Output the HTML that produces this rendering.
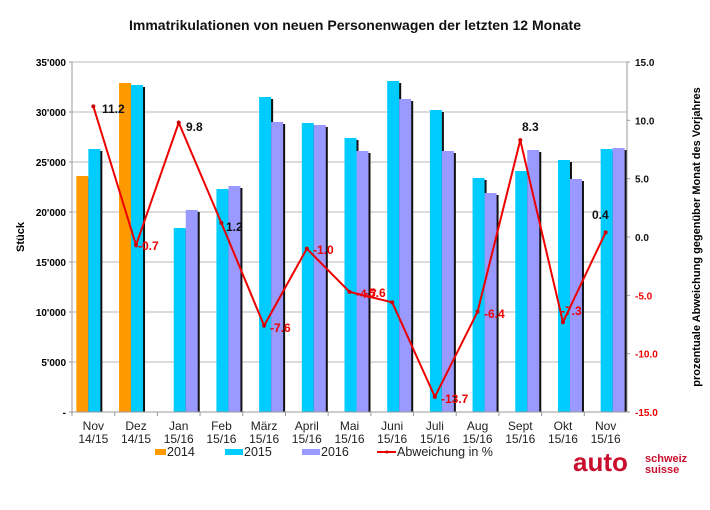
<!DOCTYPE html>
<html><head><meta charset="utf-8"><style>
body{margin:0;background:#fff;}
text{font-family:"Liberation Sans",Arial,sans-serif;}
</style></head><body>
<svg width="710" height="505" xmlns="http://www.w3.org/2000/svg">
<text x="355" y="30" text-anchor="middle" font-size="14" font-weight="bold" fill="#111">Immatrikulationen von neuen Personenwagen der letzten 12 Monate</text>
<g id="grid" stroke="#c8c8c8" stroke-width="1.2"></g>
<g id="bars"></g>
<line x1="72" y1="62" x2="72" y2="412" stroke="#999"/>
<line x1="627" y1="62" x2="627" y2="412" stroke="#999"/>
<line x1="72" y1="412" x2="627" y2="412" stroke="#999"/>
<g id="ticks" font-size="10" font-weight="bold"></g>
<text transform="translate(24,237) rotate(-90)" text-anchor="middle" font-size="11" font-weight="bold">Stück</text>
<text transform="translate(700,237) rotate(-90)" text-anchor="middle" font-size="11" font-weight="bold">prozentuale Abweichung gegenüber Monat des Vorjahres</text>
<g id="line"></g>
<g id="cats" font-size="12" fill="#222" text-anchor="middle"></g>
<g font-size="12.5" fill="#222">
<rect x="155" y="449" width="11" height="6" fill="#ff9900"/><text x="167" y="456">2014</text>
<rect x="225" y="449" width="18" height="6" fill="#00ccff"/><text x="244" y="456">2015</text>
<rect x="302" y="449" width="18" height="6" fill="#9999ff"/><text x="321" y="456">2016</text>
<line x1="377" y1="452" x2="396" y2="452" stroke="#e00" stroke-width="2"/><circle cx="387" cy="452" r="1.5" fill="#c00"/><text x="397" y="456">Abweichung in %</text>
</g>
<text x="573" y="471" font-size="26" font-weight="bold" fill="#c8102e">auto</text>
<text x="645" y="462" font-size="11" font-weight="bold" fill="#c8102e">schweiz</text>
<text x="645" y="473" font-size="11" font-weight="bold" fill="#c8102e">suisse</text>
</svg>
<script>
const L=72,R=627,T=62,B=412,W=(R-L)/13;
const ns="http://www.w3.org/2000/svg";
function el(p,t,a,txt){const e=document.createElementNS(ns,t);for(const k in a)e.setAttribute(k,a[k]);if(txt!==undefined)e.textContent=txt;document.getElementById(p).appendChild(e);}
const yv=v=>B-v/35000*(B-T), yp=p=>237-p*(B-T)/30;
for(let v=5000;v<=35000;v+=5000)el("grid","line",{x1:L,x2:R,y1:yv(v),y2:yv(v)});
const ll=["-","5'000","10'000","15'000","20'000","25'000","30'000","35'000"];
ll.forEach((t,i)=>{el("ticks","text",{x:L-6,y:yv(i*5000)+4,"text-anchor":"end"},t);el("ticks","line",{x1:L-3,x2:L,y1:yv(i*5000),y2:yv(i*5000),stroke:"#999"});});
for(let p=-15;p<=15;p+=5){el("ticks","text",{x:R+8,y:yp(p)+4,fill:p<0?"#e00":"#111"},p.toFixed(1));el("ticks","line",{x1:R,x2:R+3,y1:yp(p),y2:yp(p),stroke:"#999"});}
const d=[[23600,26300,0],[32900,32700,0],[0,18400,20200],[0,22300,22600],[0,31500,29000],[0,28900,28700],[0,27400,26100],[0,33100,31300],[0,30200,26100],[0,23400,21900],[0,24100,26200],[0,25200,23300],[0,26300,26400]];
const col=["#ff9900","#00ccff","#9999ff"];
const cats=[["Nov","14/15"],["Dez","14/15"],["Jan","15/16"],["Feb","15/16"],["März","15/16"],["April","15/16"],["Mai","15/16"],["Juni","15/16"],["Juli","15/16"],["Aug","15/16"],["Sept","15/16"],["Okt","15/16"],["Nov","15/16"]];
d.forEach((g,i)=>{const c=L+W*(i+.5);g.forEach((v,j)=>{if(!v)return;const x=c-17+j*12;el("bars","rect",{x:x+2,y:yv(v)+2,width:12,height:B-yv(v)-2,fill:"#111"});el("bars","rect",{x:x,y:yv(v),width:12,height:B-yv(v),fill:col[j]});});
el("cats","text",{x:c,y:430},cats[i][0]);el("cats","text",{x:c,y:443},cats[i][1]);
el("ticks","line",{x1:L+W*i,x2:L+W*i,y1:B,y2:B+4,stroke:"#999"});});
const p=[11.2,-0.7,9.8,1.2,-7.6,-1.0,-4.7,-5.6,-13.7,-6.4,8.3,-7.3,0.4];
const pts=p.map((v,i)=>[L+W*(i+.5),yp(v)]);
el("line","polyline",{points:pts.map(a=>a.join(",")).join(" "),fill:"none",stroke:"#e00","stroke-width":2});
pts.forEach(a=>el("line","circle",{cx:a[0],cy:a[1],r:2,fill:"#c00"}));
const lab=[[102,113,"11.2","#111"],[138,250,"-0.7","#e00"],[186,131,"9.8","#111"],[226,231,"1.2","#111"],[270,332,"-7.6","#e00"],[313,254,"-1.0","#e00"],[356,298,"-4.7","#e00"],[365,297,"-5.6","#e00"],[441,403,"-13.7","#e00"],[484,318,"-6.4","#e00"],[522,131,"8.3","#111"],[561,315,"-7.3","#e00"],[592,219,"0.4","#111"]];
lab.forEach(l=>el("line","text",{x:l[0],y:l[1],"font-size":12,"font-weight":"bold",fill:l[3]},l[2]));
</script>
</body></html>
